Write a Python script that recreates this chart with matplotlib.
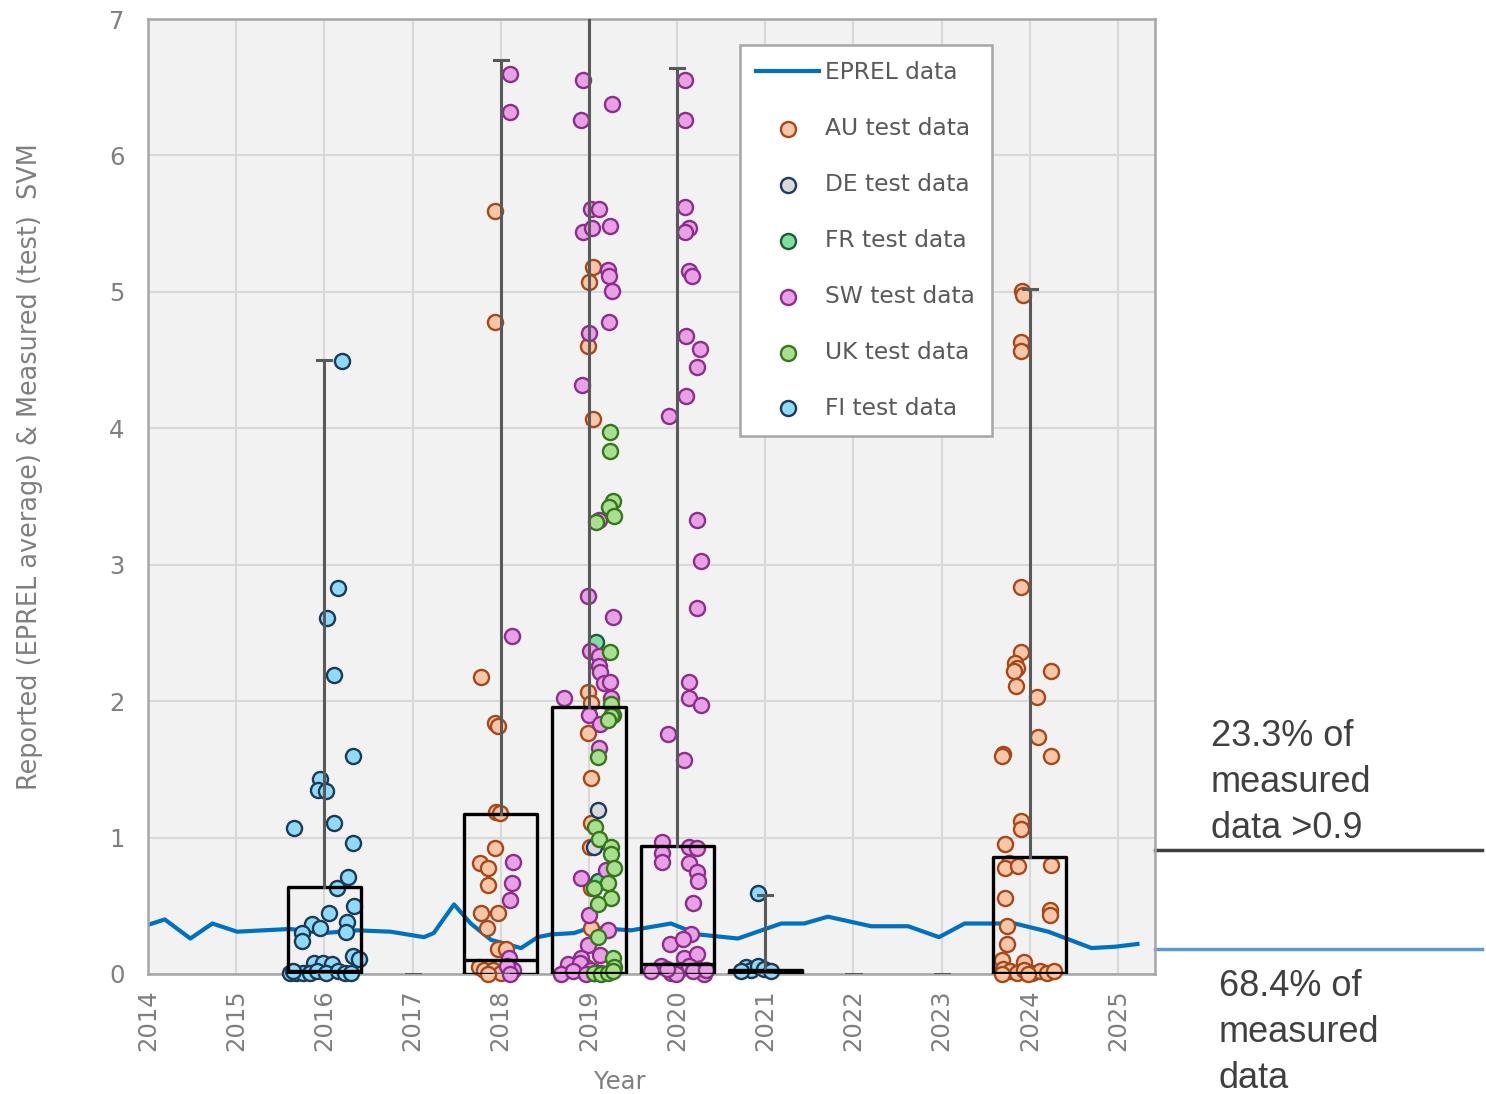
import numpy as np
import matplotlib
matplotlib.use("Agg")
import matplotlib.pyplot as plt

plt.rcParams['font.family'] = ['DejaVu Sans']

# EPREL average curve
eprel_x = [2014.0, 2014.19, 2014.48, 2014.73, 2015.01, 2015.61, 2016.0, 2016.37, 2016.75,
           2017.13, 2017.24, 2017.47, 2017.66, 2017.89, 2018.23, 2018.42, 2018.57, 2018.83,
           2019.02, 2019.48, 2019.93, 2020.24, 2020.69, 2021.18, 2021.44, 2021.71, 2022.2,
           2022.62, 2022.97, 2023.26, 2023.83, 2024.21, 2024.7, 2024.97, 2025.22]
eprel_y = [0.36, 0.40, 0.26, 0.37, 0.31, 0.33, 0.30, 0.32, 0.31,
           0.27, 0.30, 0.51, 0.37, 0.25, 0.19, 0.27, 0.29, 0.30,
           0.34, 0.32, 0.37, 0.29, 0.26, 0.37, 0.37, 0.42, 0.35,
           0.35, 0.27, 0.37, 0.37, 0.31, 0.19, 0.20, 0.22]

# test data points (x = year incl. jitter)
au_x = [2017.93, 2017.93, 2017.78, 2017.94, 2017.97, 2017.95, 2017.99, 2017.94, 2017.76, 2017.85,
        2017.85, 2017.78, 2017.97, 2017.84, 2017.97, 2018.06, 2017.75, 2017.81, 2017.91, 2018.0, 2017.85,
        2019.05, 2019.0, 2018.99, 2019.05, 2018.99, 2019.02, 2018.99, 2019.02, 2019.02, 2019.01, 2019.02,
        2019.02, 2018.97,
        2023.91, 2023.92, 2023.90, 2023.90, 2023.90, 2023.90, 2023.83, 2023.85, 2023.82, 2023.84, 2024.24,
        2024.08, 2024.09, 2023.70, 2023.68, 2024.24, 2023.90, 2023.90, 2023.72, 2023.76, 2023.72, 2023.86,
        2024.24, 2023.72, 2024.23, 2024.23, 2023.74, 2023.74, 2023.68, 2023.93, 2023.70, 2023.77, 2023.85,
        2023.93, 2024.02, 2024.11, 2024.19, 2024.27, 2023.68, 2023.98]
au_y = [5.59, 4.78, 2.18, 1.84, 1.82, 1.19, 1.18, 0.92, 0.81, 0.78,
        0.65, 0.45, 0.45, 0.34, 0.18, 0.18, 0.05, 0.03, 0.03, 0.01, 0.0,
        5.18, 5.07, 4.60, 4.07, 2.07, 1.99, 1.77, 1.44, 1.11, 0.93, 0.63,
        0.34, 0.05,
        5.01, 4.98, 4.63, 4.57, 2.84, 2.36, 2.28, 2.24, 2.22, 2.11, 2.22,
        2.03, 1.74, 1.61, 1.60, 1.60, 1.12, 1.06, 0.95, 0.81, 0.78, 0.79,
        0.80, 0.56, 0.47, 0.43, 0.35, 0.22, 0.10, 0.09, 0.04, 0.02, 0.01,
        0.03, 0.01, 0.02, 0.01, 0.02, 0.0, 0.0]

de_x = [2019.10, 2019.06, 2019.05]
de_y = [1.20, 0.93, 0.02]

fr_x = [2019.08, 2019.10, 2019.06]
fr_y = [2.43, 0.68, 0.01]

sw_x = [2018.11, 2018.10, 2018.13, 2018.14, 2018.13, 2018.10, 2018.09, 2018.14, 2018.07, 2018.11,
        2018.93, 2019.26, 2018.91, 2019.02, 2019.11, 2018.93, 2019.03, 2019.24, 2019.22, 2019.23,
        2019.26, 2019.23, 2019.0, 2018.92, 2019.11, 2018.99, 2019.27, 2019.01, 2019.11, 2019.11,
        2019.13, 2019.17, 2019.24, 2018.72, 2019.25, 2019.0, 2019.13, 2019.11, 2019.19, 2018.91,
        2019.0, 2019.22, 2018.99, 2019.13, 2018.91, 2018.76, 2018.90, 2018.68, 2018.82, 2019.02,
        2019.14, 2018.97,
        2020.09, 2020.09, 2020.09, 2020.13, 2020.09, 2020.14, 2020.17, 2020.10, 2020.26, 2020.23,
        2020.10, 2019.91, 2020.23, 2020.27, 2020.23, 2020.14, 2020.14, 2020.27, 2019.90, 2020.08,
        2019.83, 2019.83, 2019.83, 2020.13, 2020.22, 2020.13, 2020.22, 2020.24, 2020.18, 2020.16,
        2019.92, 2020.07, 2020.08, 2020.22, 2020.24, 2019.82, 2020.30, 2019.70, 2019.93, 2020.02,
        2020.14, 2020.18, 2019.99, 2019.88, 2020.33]
sw_y = [6.60, 6.32, 2.48, 0.82, 0.67, 0.54, 0.12, 0.03, 0.06, 0.0,
        6.55, 6.38, 6.26, 5.61, 5.61, 5.44, 5.47, 5.48, 5.16, 5.12,
        5.01, 4.78, 4.70, 4.32, 3.33, 2.77, 2.62, 2.37, 2.33, 2.26,
        2.21, 2.13, 2.14, 2.02, 2.02, 1.90, 1.83, 1.66, 0.76, 0.70,
        0.43, 0.32, 0.21, 0.14, 0.12, 0.07, 0.08, 0.0, 0.02, 0.03,
        0.01, 0.0,
        6.55, 6.26, 5.62, 5.47, 5.44, 5.15, 5.12, 4.68, 4.58, 4.45,
        4.24, 4.09, 3.33, 3.03, 2.68, 2.14, 2.02, 1.97, 1.76, 1.57,
        0.97, 0.89, 0.82, 0.93, 0.92, 0.81, 0.75, 0.68, 0.52, 0.29,
        0.22, 0.26, 0.12, 0.15, 0.04, 0.06, 0.0, 0.02, 0.01, 0.03,
        0.06, 0.02, 0.0, 0.04, 0.03]

uk_x = [2019.24, 2019.24, 2019.27, 2019.23, 2019.28, 2019.08, 2019.24, 2019.25, 2019.27, 2019.25,
        2019.22, 2019.10, 2019.07, 2019.11, 2019.25, 2019.25, 2019.28, 2019.22, 2019.06, 2019.25,
        2019.10, 2019.10, 2019.27, 2019.28, 2019.06, 2019.14, 2019.22, 2019.27]
uk_y = [3.97, 3.83, 3.47, 3.42, 3.36, 3.31, 2.36, 1.98, 1.90, 1.89,
        1.86, 1.59, 1.08, 0.99, 0.93, 0.88, 0.78, 0.67, 0.63, 0.56,
        0.51, 0.27, 0.12, 0.05, 0.01, 0.0, 0.01, 0.02]

fi_x = [2016.20, 2016.16, 2016.03, 2016.11, 2016.33, 2015.95, 2015.93, 2016.02, 2015.65, 2016.11,
        2016.32, 2016.27, 2016.14, 2016.34, 2016.05, 2015.86, 2015.95, 2016.26, 2016.24, 2015.75,
        2015.75, 2016.32, 2016.39, 2015.88, 2015.99, 2016.09, 2015.61, 2015.68, 2015.76, 2015.84,
        2015.92, 2016.02, 2016.15, 2016.23, 2016.30, 2015.64,
        2020.92, 2020.78, 2020.84, 2020.92, 2020.99, 2021.07, 2020.73]
fi_y = [4.49, 2.83, 2.61, 2.19, 1.60, 1.43, 1.35, 1.34, 1.07, 1.11,
        0.96, 0.71, 0.63, 0.50, 0.45, 0.37, 0.34, 0.38, 0.31, 0.30,
        0.24, 0.13, 0.11, 0.08, 0.08, 0.07, 0.01, 0.01, 0.01, 0.01,
        0.02, 0.01, 0.02, 0.01, 0.01, 0.02,
        0.59, 0.05, 0.03, 0.06, 0.04, 0.02, 0.02]

# box statistics per year
box_pos = [2016.0, 2018.0, 2019.0, 2020.0, 2021.0, 2024.0]
box_q1 = [0, 0, 0, 0, 0, 0]
box_med = [0.02, 0.10, 0.01, 0.07, 0.02, 0.01]
box_q3 = [0.64, 1.17, 1.96, 0.94, 0.03, 0.86]
box_max = [4.50, 6.70, 7.40, 6.64, 0.58, 5.02]
empty_pos = [2017.0, 2022.0, 2023.0]

series = [
    ("AU test data", au_x, au_y, "#f9c6a8", "#a5491a"),
    ("DE test data", de_x, de_y, "#d9d9d9", "#1f3864"),
    ("FR test data", fr_x, fr_y, "#7ee0a0", "#1e5a3c"),
    ("SW test data", sw_x, sw_y, "#e9a0e6", "#8b2f8b"),
    ("UK test data", uk_x, uk_y, "#a9e08f", "#38761d"),
    ("FI test data", fi_x, fi_y, "#8fd9f9", "#1b3a57"),
]

fig = plt.figure(figsize=(14.86, 10.94), dpi=100)
ax = fig.add_axes([0.0996, 0.1097, 0.6777, 0.8729])
ax.set_facecolor("#f2f2f2")

ax.plot(eprel_x, eprel_y, color="#0070c0", lw=3, zorder=2, label="EPREL data",
        solid_joinstyle="round")
for name, xs, ys, fc, ec in series:
    ax.scatter(xs, ys, s=118, facecolor=fc, edgecolor=ec, linewidths=1.7,
               zorder=3, clip_on=False, label=name)

stats = []
for p, q1, m, q3, hi in zip(box_pos, box_q1, box_med, box_q3, box_max):
    stats.append(dict(q1=q1, med=m, q3=q3, whislo=q1, whishi=hi, fliers=[]))
ax.bxp(stats, positions=box_pos, widths=0.83, capwidths=0.16, showfliers=False,
       manage_ticks=False, zorder=4,
       boxprops=dict(color="black", lw=2.4),
       medianprops=dict(color="black", lw=2.4),
       whiskerprops=dict(color="#595959", lw=2.2),
       capprops=dict(color="#595959", lw=2.2))
empty = [dict(q1=0, med=0, q3=0, whislo=0, whishi=0, fliers=[]) for _ in empty_pos]
ax.bxp(empty, positions=empty_pos, widths=0.83, capwidths=0.16, showfliers=False,
       showbox=False, manage_ticks=False, zorder=4,
       medianprops=dict(lw=0),
       whiskerprops=dict(color="#595959", lw=2),
       capprops=dict(color="#595959", lw=2))

ax.set_xlim(2014, 2025.42)
ax.set_ylim(0, 7)
ax.set_xticks(range(2014, 2026))
ax.set_yticks(range(0, 8))
ax.tick_params(axis="x", labelrotation=90, length=0, pad=11, labelsize=17.5, labelcolor="#7f7f7f")
ax.tick_params(axis="y", length=0, pad=17, labelsize=17.5, labelcolor="#7f7f7f")
ax.grid(True, color="#d9d9d9", lw=1.5)
ax.set_axisbelow(True)
for sp in ax.spines.values():
    sp.set_color("#a6a6a6")
    sp.set_linewidth(1.8)

fig.text(30 / 1486, 1 - 467 / 1094, "Reported (EPREL average) & Measured (test)  SVM",
         rotation=90, ha="center", va="center", fontsize=18.4, color="#7f7f7f")
fig.text(620 / 1486, 1 - 1082 / 1094, "Year", ha="center", va="center",
         fontsize=17.5, color="#7f7f7f")

leg = ax.legend(loc="upper left", bbox_to_anchor=(0.588, 0.973), borderaxespad=0,
                fontsize=16.8, labelcolor="#595959", frameon=True, fancybox=False,
                framealpha=1, edgecolor="#a6a6a6", handlelength=2.7,
                handletextpad=0.25, labelspacing=1.41, borderpad=0.7)
leg.get_frame().set_linewidth(1.8)

# threshold lines and notes to the right of the plot
tr = ax.get_yaxis_transform()
ax.plot([1, 1.325], [0.91, 0.91], transform=tr, color="#404040", lw=2.5, clip_on=False)
ax.plot([1, 1.325], [0.18, 0.18], transform=tr, color="#5b9bd5", lw=2.5, clip_on=False)
fig.text(1211 / 1486, 1 - 719 / 1094, "23.3% of\nmeasured\ndata >0.9", ha="left", va="top",
         fontsize=26, color="#404040", family="Liberation Sans", linespacing=1.4)
fig.text(1219 / 1486, 1 - 969 / 1094, "68.4% of\nmeasured\ndata", ha="left", va="top",
         fontsize=26, color="#404040", family="Liberation Sans", linespacing=1.4)

fig.savefig("out.png", dpi=100)
